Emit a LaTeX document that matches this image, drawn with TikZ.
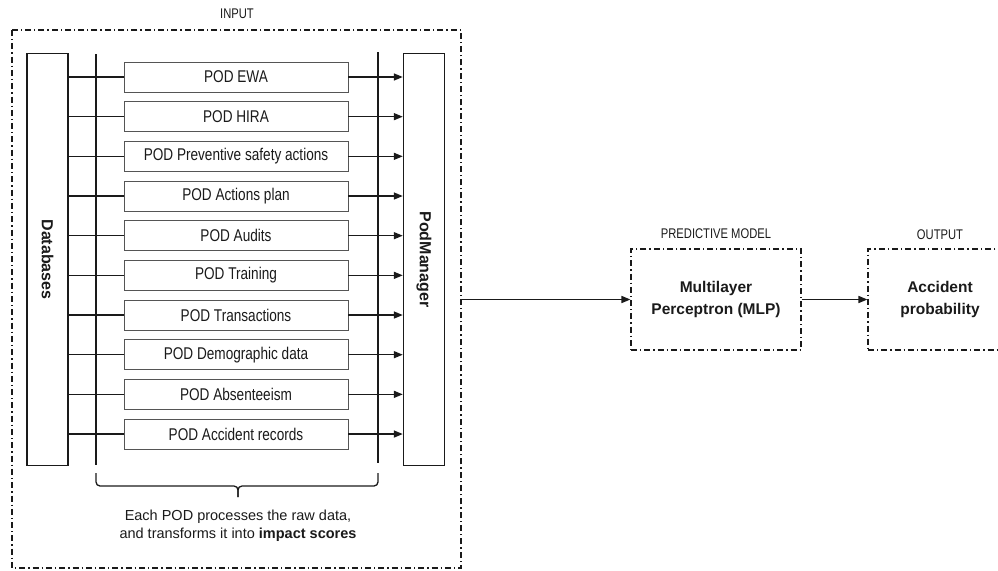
\documentclass[tikz,border=0pt]{standalone}
\usepackage{fontspec}
\setmainfont{Liberation Sans}
\newfontfamily\narrowfont[FakeStretch=0.8]{Liberation Sans}
\usetikzlibrary{arrows.meta}
\definecolor{ink}{HTML}{1A1A1A}
\definecolor{boxgray}{HTML}{555555}
\tikzset{
  frame/.style={draw=ink, line width=1.1pt, dash pattern=on 6pt off 3pt on 1.3pt off 3pt},
  podbox/.style={draw=boxgray, line width=0.9pt, minimum width=224pt, minimum height=30pt,
    inner sep=0pt, font=\narrowfont\fontsize{17}{20}\selectfont, text=ink},
  tallbox/.style={draw=ink, line width=1.4pt, minimum width=41pt, minimum height=412pt, inner sep=0pt},
  rotlabel/.style={rotate=-90, font=\bfseries\fontsize{16}{19}\selectfont, text=ink},
  conn/.style={draw=ink, line width=1.5pt},
  arr/.style={conn, -{Triangle[length=9pt,width=7pt]}},
  caption/.style={font=\narrowfont\fontsize{14}{17}\selectfont, text=ink},
  boldtext/.style={font=\bfseries\fontsize{15.5}{22}\selectfont, text=ink, align=center},
}
\begin{document}
\begin{tikzpicture}[x=1pt,y=-1pt]
\useasboundingbox (0,0) rectangle (998,570);
\clip (0,0) rectangle (998,570);

% input frame
\draw[frame] (12,30) rectangle (461,568);
\node[caption] (inlbl) at (237,14) {INPUT};

% databases and pod manager
\node[tallbox] (db) at (47.5,259.5) {};
\node[rotlabel] at (db.center) {Databases};
\node[tallbox] (pm) at (424,259.5) {};
\node[rotlabel] at (pm.center) {PodManager};

% vertical bus lines
\coordinate (lt) at (96,54);
\coordinate (lb) at (96,465);
\coordinate (rt) at (378,52);
\coordinate (rb) at (378,463);
\draw[conn] (lt) -- (lb);
\draw[conn] (rt) -- (rb);

% POD boxes
\foreach \i/\t in {0/POD EWA,1/POD HIRA,2/POD Preventive safety actions,3/POD Actions plan,
  4/POD Audits,5/POD Training,6/POD Transactions,7/POD Demographic data,
  8/POD Absenteeism,9/POD Accident records}{
  \node[podbox] (pod\i) at (236,77+39.67*\i) {\t};
  \draw[conn] (db.east |- pod\i.west) -- (pod\i.west);
  \draw[arr] (pod\i.east) -- (pm.west |- pod\i.east);
}

% brace
\coordinate (bl) at (96,473);
\coordinate (br) at (378,473);
\coordinate (btip) at (238,497);
\draw[conn, line width=1.3pt, rounded corners=4pt] (bl) -- (96,486) -- (238,486) -- (btip);
\draw[conn, line width=1.3pt, rounded corners=4pt] (br) -- (378,486) -- (238,486) -- (btip);
\node[font=\fontsize{14.5}{18}\selectfont, text=ink, align=center] (note) at (238,526)
  {Each POD processes the raw data,\\and transforms it into \textbf{impact scores}};

% predictive model
\node[caption] (pmlbl) at (716,234) {PREDICTIVE MODEL};
\node[frame, minimum width=170pt, minimum height=101pt, inner sep=0pt] (mlp) at (716,299.5) {};
\node[boldtext] at (mlp.center) {Multilayer\\Perceptron (MLP)};

% output
\node[caption] (outlbl) at (940,235) {OUTPUT};
\node[frame, minimum width=144pt, minimum height=101pt, inner sep=0pt] (out) at (940,299.5) {};
\node[boldtext] at (out.center) {Accident\\probability};

% main arrows
\coordinate (inexit) at (461,299.5);
\draw[arr] (inexit) -- (mlp.west);
\draw[arr] (mlp.east) -- (out.west);
\end{tikzpicture}
\end{document}
